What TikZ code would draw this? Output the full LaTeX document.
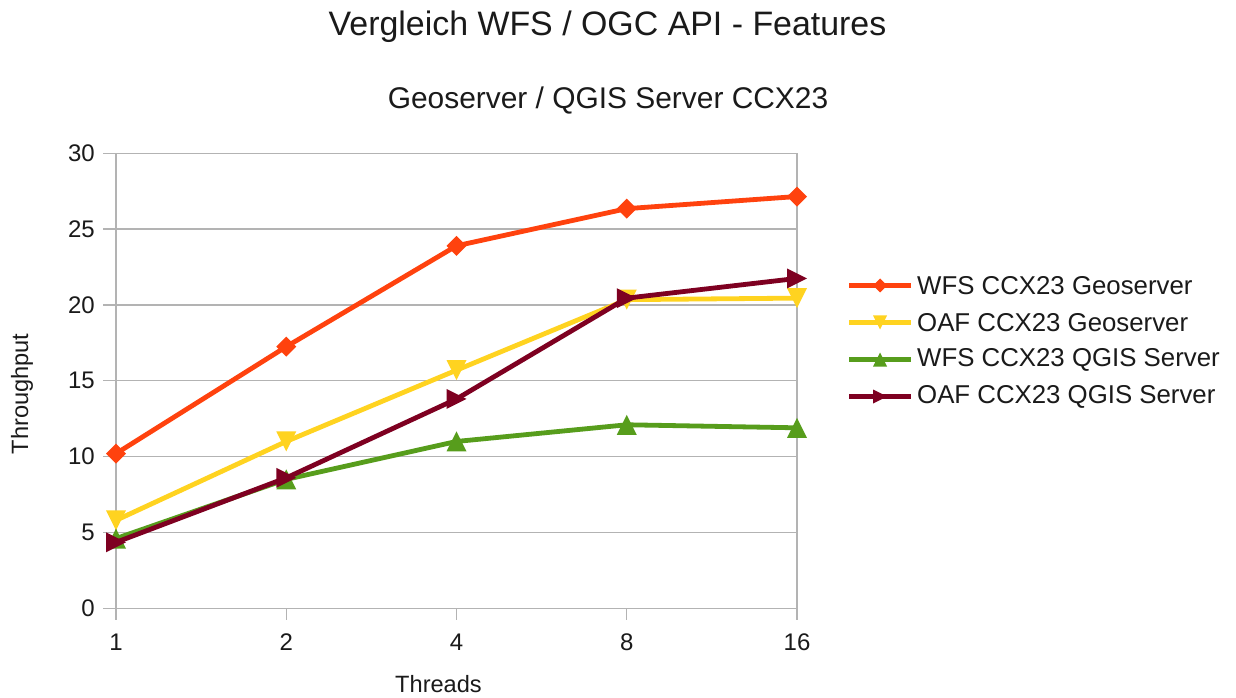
\documentclass[tikz,border=0pt]{standalone}
\usepackage{fontspec}
\setmainfont{Liberation Sans}
\usetikzlibrary{plotmarks}
\definecolor{sorange}{HTML}{FF420E}
\definecolor{syellow}{HTML}{FFD320}
\definecolor{sgreen}{HTML}{579D1C}
\definecolor{sred}{HTML}{7E0021}
\definecolor{gridgray}{HTML}{B3B3B3}
\definecolor{txt}{HTML}{1A1A1A}
\pgfdeclareplotmark{lodiamond}{%
  \pgfpathmoveto{\pgfqpoint{0pt}{\pgfplotmarksize}}%
  \pgfpathlineto{\pgfqpoint{\pgfplotmarksize}{0pt}}%
  \pgfpathlineto{\pgfqpoint{0pt}{-\pgfplotmarksize}}%
  \pgfpathlineto{\pgfqpoint{-\pgfplotmarksize}{0pt}}%
  \pgfpathclose\pgfusepathqfill}
\pgfdeclareplotmark{lotridown}{%
  \pgfpathmoveto{\pgfqpoint{0pt}{-\pgfplotmarksize}}%
  \pgfpathlineto{\pgfqpoint{\pgfplotmarksize}{\pgfplotmarksize}}%
  \pgfpathlineto{\pgfqpoint{-\pgfplotmarksize}{\pgfplotmarksize}}%
  \pgfpathclose\pgfusepathqfill}
\pgfdeclareplotmark{lotriup}{%
  \pgfpathmoveto{\pgfqpoint{0pt}{\pgfplotmarksize}}%
  \pgfpathlineto{\pgfqpoint{\pgfplotmarksize}{-\pgfplotmarksize}}%
  \pgfpathlineto{\pgfqpoint{-\pgfplotmarksize}{-\pgfplotmarksize}}%
  \pgfpathclose\pgfusepathqfill}
\pgfdeclareplotmark{lotriright}{%
  \pgfpathmoveto{\pgfqpoint{\pgfplotmarksize}{0pt}}%
  \pgfpathlineto{\pgfqpoint{-\pgfplotmarksize}{\pgfplotmarksize}}%
  \pgfpathlineto{\pgfqpoint{-\pgfplotmarksize}{-\pgfplotmarksize}}%
  \pgfpathclose\pgfusepathqfill}
\tikzset{
  gridline/.style={draw=gridgray, line width=1.3pt},
  series/.style={line width=4.8pt, line join=round, line cap=round},
  ticklabel/.style={text=txt, font=\fontsize{24}{28}\selectfont, inner sep=0pt},
  axistitle/.style={text=txt, font=\fontsize{23.6}{28}\selectfont, inner sep=0pt},
  legtext/.style={text=txt, font=\fontsize{25.8}{30}\selectfont, inner sep=0pt, anchor=west},
  legline/.style={line width=5pt},
}
\begin{document}
\begin{tikzpicture}[x=1pt,y=1pt]
\useasboundingbox (0,0) rectangle (1236,697);
\fill[white] (0,0) rectangle (1236,697);
% titles
\node[text=txt, font=\fontsize{33.9}{40}\selectfont, inner sep=0pt] (title) at (607.5,670) {Vergleich WFS / OGC API - Features};
\node[text=txt, font=\fontsize{29.9}{35}\selectfont, inner sep=0pt] (subtitle) at (608,597) {Geoserver / QGIS Server CCX23};
\node[axistitle, rotate=90] (ytitle) at (22,303) {Throughput};
\node[axistitle] (xtitle) at (438.5,13) {Threads};
\begin{scope}[shift={(116pt,88.7pt)}, x=170.25pt, y=15.167pt]
  \foreach \v in {0,5,...,30} {
    \draw[gridline] ([xshift=-13pt]0,\v) -- (4,\v);
    \node[ticklabel, anchor=east] (yl\v) at ([xshift=-21pt]0,\v) {\v};
  }
  \draw[gridline] (0,0) -- (0,30);
  \draw[gridline] (4,0) -- (4,30);
  \foreach \i/\l in {0/1,1/2,2/4,3/8,4/16} {
    \draw[gridline] (\i,0) -- ([yshift=-12pt]\i,0);
    \node[ticklabel] (xl\l) at ([yshift=-34pt]\i,0) {\l};
  }
  \draw[series, sorange] plot[mark=lodiamond, mark size=10pt, mark options={sorange}] coordinates {(0,10.2) (1,17.25) (2,23.9) (3,26.35) (4,27.15)};
  \draw[series, syellow] plot[mark=lotridown, mark size=10pt, mark options={syellow}] coordinates {(0,5.8) (1,11.0) (2,15.7) (3,20.35) (4,20.45)};
  \draw[series, sgreen] plot[mark=lotriup, mark size=10pt, mark options={sgreen}] coordinates {(0,4.6) (1,8.5) (2,11.0) (3,12.1) (4,11.9)};
  \draw[series, sred] plot[mark=lotriright, mark size=10pt, mark options={sred}] coordinates {(0,4.35) (1,8.6) (2,13.8) (3,20.45) (4,21.75)};
\end{scope}
% legend
\foreach \n/\c/\m/\y/\t in {1/sorange/lodiamond/411.5/WFS CCX23 Geoserver,
                            2/syellow/lotridown/374.5/OAF CCX23 Geoserver,
                            3/sgreen/lotriup/337.5/WFS CCX23 QGIS Server,
                            4/sred/lotriright/300.5/OAF CCX23 QGIS Server} {
  \coordinate (la\n) at (849,\y);
  \coordinate (lb\n) at (911,\y);
  \draw[legline, \c] (la\n) -- (lb\n);
  \draw[\c] plot[mark=\m, mark size=7pt, mark options={\c}] coordinates {(880,\y)};
  \node[legtext] (lt\n) at (917,\y) {\t};
}
\end{tikzpicture}
\end{document}
